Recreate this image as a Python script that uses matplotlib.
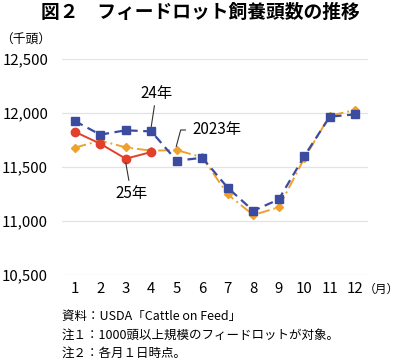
import matplotlib
matplotlib.use("Agg")
import matplotlib.pyplot as plt

plt.rcParams['font.family'] = ['Noto Sans CJK JP', 'DejaVu Sans']

months = list(range(1, 13))
month_labels = [str(m) for m in months]

# 2024, 2023 and 2025 (thousand head)
y2024 = [11926, 11800, 11840, 11830, 11558, 11586, 11308, 11095, 11200, 11600, 11966, 11988]
y2023 = [11679, 11745, 11682, 11651, 11657, 11590, 11247, 11056, 11127, 11580, 11975, 12028]
y2025 = [11827, 11716, 11577, 11639]

yticks = [10500, 11000, 11500, 12000, 12500]

fig = plt.figure(figsize=(4, 3.6), dpi=100)
ax = fig.add_axes([0.155, 0.236, 0.765, 0.600])

ax.plot(months, y2023, color='#F0A12C', linestyle=(0, (6, 2, 1, 2)), linewidth=1.4,
        marker='D', markersize=4, zorder=3)
ax.plot(months, y2024, color='#3B4BA0', linestyle=(0, (4, 2.5)), linewidth=1.6,
        marker='s', markersize=6, zorder=4)
ax.plot(months[:len(y2025)], y2025, color='#E2402A', linestyle='-', linewidth=1.4,
        marker='o', markersize=6, zorder=5)

ax.set_xlim(0.5, 12.5)
ax.set_ylim(10500, 12500)
ax.set_yticks(yticks)
ax.set_yticklabels([f'{v:,}' for v in yticks], fontsize=10.8)
ax.set_xticks(months)
ax.set_xticklabels(month_labels, fontsize=10.8)
ax.tick_params(length=0)
ax.tick_params(axis='x', pad=5)
ax.tick_params(axis='y', pad=10)
ax.grid(axis='y', color='#E3E3E3', linewidth=0.9)
ax.set_axisbelow(True)
for s in ax.spines.values():
    s.set_visible(False)

# labels with leader lines
ax.annotate('24年', xy=(4.0, 11875), xytext=(4.2, 12185), fontsize=11,
            ha='center', va='center', zorder=6,
            arrowprops=dict(arrowstyle='-', color='#333333', lw=0.8, shrinkA=1, shrinkB=0))
ax.annotate('25年', xy=(3.0, 11540), xytext=(3.21, 11259), fontsize=11,
            ha='center', va='center', zorder=6,
            arrowprops=dict(arrowstyle='-', color='#333333', lw=0.8, shrinkA=1, shrinkB=0))
ax.annotate('2023年', xy=(4.98, 11690), xytext=(5.62, 11843), fontsize=11,
            ha='left', va='center', zorder=6,
            arrowprops=dict(arrowstyle='-', color='#333333', lw=0.8, shrinkA=3, shrinkB=0,
                            connectionstyle='angle,angleA=0,angleB=75,rad=0'))

fig.text(0.5, 0.966, '図２　フィードロット飼養頭数の推移', ha='center', va='center',
         fontsize=13.5, fontweight='bold')
fig.text(0.0, 0.888, '（千頭）', ha='left', va='center', fontsize=9.2)
fig.text(0.998, 0.195, '（月）', ha='right', va='center', fontsize=8.5)
fig.text(0.155, 0.122, '資料：USDA「Cattle on Feed」', ha='left', va='center', fontsize=9)
fig.text(0.155, 0.069, '注１：1000頭以上規模のフィードロットが対象。', ha='left', va='center', fontsize=9)
fig.text(0.155, 0.019, '注２：各月１日時点。', ha='left', va='center', fontsize=9)

fig.savefig('out.png', dpi=100)
